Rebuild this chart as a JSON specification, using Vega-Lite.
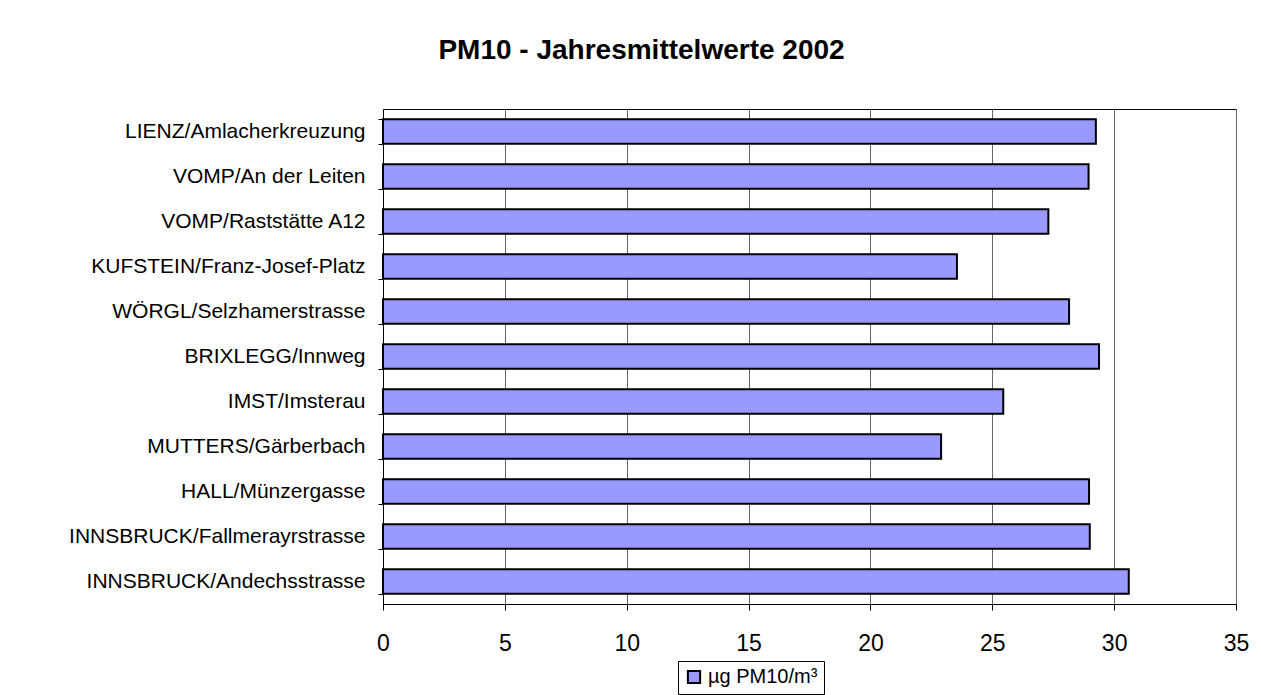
{
  "$schema": "https://vega.github.io/schema/vega-lite/v6.json",
  "autosize": {"type": "none"},
  "width": 853,
  "height": 495,
  "padding": {"left": 383, "top": 109, "right": 25, "bottom": 91},
  "background": "white",
  "title": {
    "text": "PM10 - Jahresmittelwerte 2002",
    "anchor": "middle",
    "frame": "group",
    "dx": -168,
    "offset": 33,
    "font": "Liberation Sans",
    "fontSize": 28,
    "fontWeight": "bold",
    "color": "#000"
  },
  "config": {
    "view": {"stroke": "#000", "strokeWidth": 1},
    "axis": {
      "labelFont": "Liberation Sans",
      "labelColor": "#000",
      "domainColor": "#000",
      "tickColor": "#000",
      "title": null
    }
  },
  "data": {
    "values": [
      {"station": "LIENZ/Amlacherkreuzung", "pm10": 29.25},
      {"station": "VOMP/An der Leiten", "pm10": 28.95},
      {"station": "VOMP/Raststätte A12", "pm10": 27.3},
      {"station": "KUFSTEIN/Franz-Josef-Platz", "pm10": 23.55},
      {"station": "WÖRGL/Selzhamerstrasse", "pm10": 28.15},
      {"station": "BRIXLEGG/Innweg", "pm10": 29.38},
      {"station": "IMST/Imsterau", "pm10": 25.45},
      {"station": "MUTTERS/Gärberbach", "pm10": 22.9},
      {"station": "HALL/Münzergasse", "pm10": 28.97},
      {"station": "INNSBRUCK/Fallmerayrstrasse", "pm10": 29.0},
      {"station": "INNSBRUCK/Andechsstrasse", "pm10": 30.6}
    ]
  },
  "mark": {"type": "bar", "stroke": "#000", "strokeWidth": 2},
  "encoding": {
    "y": {
      "field": "station",
      "type": "nominal",
      "sort": null,
      "scale": {"paddingInner": 0.46, "paddingOuter": 0.23},
      "axis": {
        "tickBand": "extent",
        "tickSize": 5,
        "labelFontSize": 21,
        "labelPadding": 13,
        "labelLimit": 400,
        "grid": false
      }
    },
    "x": {
      "field": "pm10",
      "type": "quantitative",
      "scale": {"domain": [0, 35], "nice": false},
      "axis": {
        "values": [0, 5, 10, 15, 20, 25, 30, 35],
        "grid": true,
        "gridColor": "#666",
        "gridWidth": 1,
        "gridOpacity": 1,
        "tickSize": 6,
        "labelFontSize": 23,
        "labelPadding": 22,
        "labelFlush": false
      }
    },
    "color": {
      "datum": "µg PM10/m³",
      "type": "nominal",
      "scale": {"range": ["#9999FF"]},
      "legend": {
        "title": null,
        "orient": "none",
        "legendX": 295,
        "legendY": 552,
        "symbolType": "square",
        "symbolSize": 150,
        "symbolStrokeColor": "#000",
        "symbolStrokeWidth": 2,
        "labelFont": "Liberation Sans",
        "labelFontSize": 20,
        "labelColor": "#000",
        "strokeColor": "#000",
        "padding": 6
      }
    }
  }
}
